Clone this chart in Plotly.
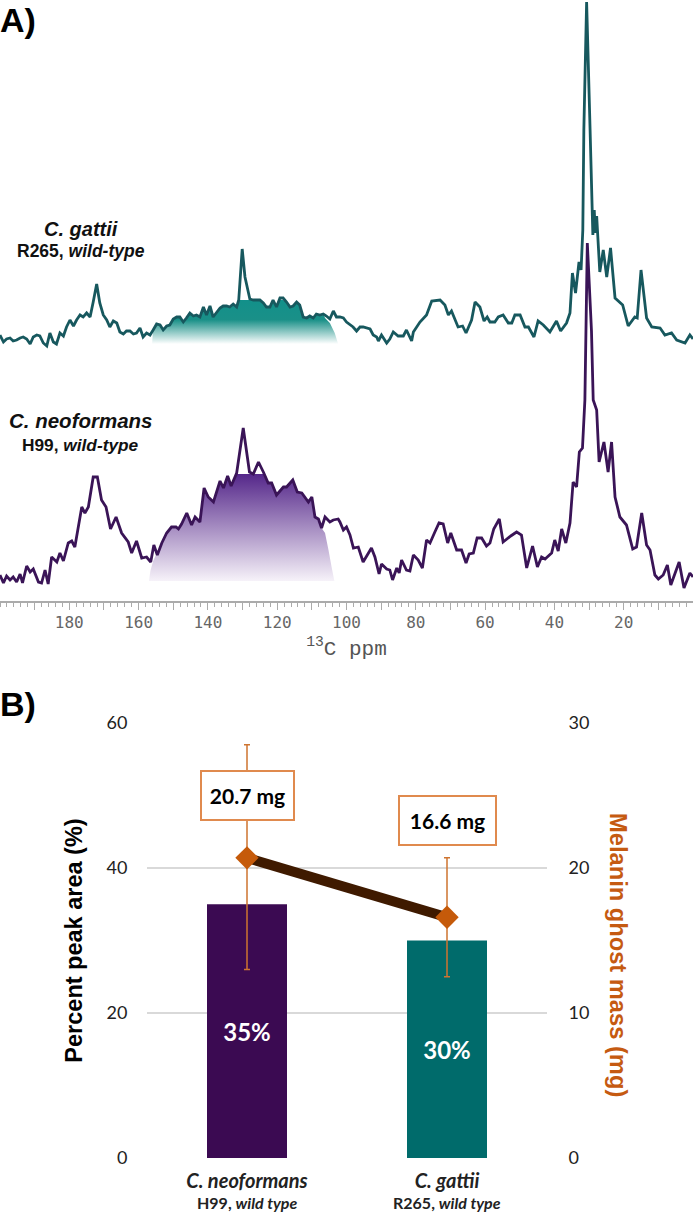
import plotly.graph_objects as go

# ---- Panel A: 13C spectra (ppm, intensity above the axis) ----
gattii_ppm = [200.0,199.0,198.1,197.1,196.2,195.2,194.2,193.3,192.3,191.3,190.4,189.4,188.5,187.5,186.5,185.6,184.6,183.7,182.7,181.7,180.8,179.8,178.8,177.9,176.9,176.0,175.0,174.0,173.1,172.1,171.2,170.2,169.2,168.3,167.3,166.3,165.4,164.4,163.5,162.5,161.5,160.6,159.6,158.7,157.7,156.7,155.8,154.8,153.8,152.9,151.9,151.0,150.0,149.0,148.1,147.1,146.2,145.2,144.2,143.3,142.3,141.3,140.4,139.4,138.5,137.5,136.5,135.6,134.6,133.7,132.7,131.7,131.1,130.1,129.3,127.9,126.9,125.0,124.0,123.1,122.1,121.2,120.2,119.2,118.3,117.3,116.3,115.4,114.4,113.5,112.5,111.5,110.6,109.6,108.7,107.7,106.7,105.8,104.8,103.8,102.9,101.9,100.9,100.0,99.0,98.1,97.1,96.1,95.2,94.2,93.2,92.3,91.3,90.8,89.9,88.4,87.5,86.5,85.1,83.6,82.7,81.2,80.7,78.8,76.9,75.4,73.0,71.6,70.6,69.7,67.8,66.5,65.5,63.9,62.9,61.5,60.3,59.4,58.6,57.2,56.2,54.8,53.3,52.3,51.4,49.9,48.5,47.5,45.9,44.7,43.2,41.3,39.4,38.2,36.5,35.5,34.8,33.9,32.9,32.3,31.8,31.5,30.7,29.7,29.1,28.9,28.5,28.2,27.8,26.9,25.9,24.9,23.8,22.5,20.3,18.7,16.8,16.1,15.0,13.4,11.9,10.5,9.5,8.1,6.2,4.7,2.3,0.9,0.0]
gattii_int = [266,259,262,263,260,261,263,264,262,257,264,266,265,258,255,268,259,257,268,265,274,281,275,281,286,284,288,284,299,317,298,286,281,274,280,278,269,267,270,270,267,268,273,264,268,266,271,277,276,271,275,276,282,284,284,279,283,288,285,286,284,294,286,295,284,289,293,295,295,294,297,294,301,352,324,302,301,301,298,294,294,301,294,303,303,299,294,295,299,296,284,283,285,283,287,286,287,285,282,290,284,284,283,279,276,274,270,274,274,273,272,266,264,260,266,258,262,269,265,265,271,260,269,279,286,300,301,296,286,290,274,275,268,281,299,294,280,284,279,279,284,286,278,278,286,286,274,274,264,280,276,269,280,270,278,288,328,308,339,331,371,471,599,471,404,366,391,368,385,329,351,324,353,303,296,275,284,283,331,283,274,273,273,266,268,261,258,266,262]

neoformans_ppm = [200.0,199.0,198.1,197.1,196.2,195.2,194.2,193.5,192.3,191.3,190.4,188.9,188.0,187.0,186.1,185.1,183.6,182.7,181.7,180.3,179.3,178.4,176.4,175.5,174.5,173.1,171.9,170.7,169.4,168.1,166.5,164.9,163.0,162.0,160.6,159.1,157.7,156.5,155.6,154.6,153.3,151.9,150.5,149.2,148.5,147.6,146.1,144.7,143.7,142.3,141.1,139.9,138.4,136.5,135.5,134.3,133.3,131.7,129.8,128.0,126.9,125.4,124.0,122.6,121.6,120.2,118.2,117.3,115.5,114.2,112.9,111.0,110.0,109.1,108.1,107.2,106.2,104.8,103.8,102.4,101.9,100.9,100.0,99.0,98.0,96.6,95.2,92.8,91.8,90.6,89.9,88.4,87.5,86.7,85.5,84.8,84.1,82.7,81.7,80.7,79.3,78.1,76.9,75.9,74.5,73.3,72.1,70.8,69.9,68.2,66.8,65.5,64.6,63.4,62.3,61.0,59.6,58.6,57.5,55.9,54.8,53.8,52.6,50.9,49.5,48.0,46.3,44.9,43.7,42.7,40.8,39.9,38.9,37.9,36.7,35.5,34.6,33.6,32.8,31.9,31.2,30.5,29.3,28.8,27.8,27.1,25.7,24.5,23.5,22.5,21.1,19.2,17.4,16.3,14.8,13.4,12.4,11.0,10.0,8.6,7.4,6.4,4.0,2.6,0.9,0.0]
neoformans_int = [26,18,25,21,24,19,27,18,35,29,32,19,18,31,17,44,39,48,40,58,60,54,94,88,94,124,124,101,94,72,84,68,59,48,60,43,44,39,56,46,58,68,74,74,72,77,88,76,84,79,113,104,99,120,113,125,115,128,173,129,127,139,129,118,118,106,114,114,121,109,108,99,104,84,82,73,84,79,81,82,79,71,74,66,53,54,39,53,44,27,37,32,31,21,33,28,41,31,30,46,41,33,61,58,69,78,77,58,68,51,51,38,47,48,63,63,55,58,72,82,59,62,65,69,66,33,55,34,44,42,48,61,50,72,58,78,119,114,149,153,201,358,270,201,191,139,159,129,159,104,84,76,52,54,88,56,51,26,22,26,36,16,39,13,28,24]

# Shaded regions: ends of the dome, flat top under the 130 ppm spike
gattii_fill_left = [(156.1, 257), (155.9, 268)]
gattii_fill_right = [(106.2, 283), (104.8, 278), (103.4, 268), (102.4, 257)]
gattii_fill_span = (106.5, 155.9)
gattii_fill_cap = 301
neo_fill_left = [(157.0, 20), (156.6, 30), (155.8, 40), (155.0, 46)]
neo_fill_right = [(106.2, 68), (105.2, 51), (104.3, 34), (103.5, 20)]
neo_fill_span = (107.0, 154.7)
neo_fill_cap = 127

ppm_labelled = [180, 160, 140, 120, 100, 80, 60, 40, 20]
ppm_tens = [190, 180, 170, 160, 150, 140, 130, 120, 110, 100, 90, 80, 70, 60, 50, 40, 30, 20, 10]
ppm_minor_step = 2

# ---- Panel B ----
strains = ["C. neoformans", "C. gattii"]
strain_sub = ["H99, <i>wild type</i>", "R265, <i>wild type</i>"]
percent_area = [35, 30]
percent_text = ["35%", "30%"]
ghost_mass = [20.7, 16.6]
ghost_err_up = [7.8, 4.1]
ghost_err_down = [7.7, 4.1]
mass_labels = ["20.7 mg", "16.6 mg"]
mass_label_y = [50.0, 46.55]
mass_box_width = [91, 95]

PURPLE_LINE, TEAL_LINE = "#3A1457", "#17585E"
ORANGE = "#C55A11"
W, H = 693, 1214

def filled(ppm, vals, left, right, span, cap):
    lo, hi = span
    mid = [(p, min(v, cap)) for p, v in zip(ppm, vals) if lo < p < hi]
    pts = left + mid + right
    return [p for p, _ in pts], [v for _, v in pts]

fig = go.Figure()

gx, gy = filled(gattii_ppm, gattii_int, gattii_fill_left, gattii_fill_right, gattii_fill_span, gattii_fill_cap)
fig.add_trace(go.Scatter(x=gx, y=gy, mode="none", fill="toself", hoverinfo="skip", xaxis="x", yaxis="y",
    fillgradient=dict(type="vertical", colorscale=[[0, "#FFFFFF"], [0.55, "#1A9088"], [1, "#12908A"]])))
fig.add_trace(go.Scatter(x=gattii_ppm, y=gattii_int, mode="lines", line=dict(color=TEAL_LINE, width=2.8), xaxis="x", yaxis="y"))
nx, ny = filled(neoformans_ppm, neoformans_int, neo_fill_left, neo_fill_right, neo_fill_span, neo_fill_cap)
fig.add_trace(go.Scatter(x=nx, y=ny, mode="none", fill="toself", hoverinfo="skip", xaxis="x", yaxis="y",
    fillgradient=dict(type="vertical", colorscale=[[0, "#F6F2F9"], [1, "#55278A"]])))
fig.add_trace(go.Scatter(x=neoformans_ppm, y=neoformans_int, mode="lines", line=dict(color=PURPLE_LINE, width=2.8), xaxis="x", yaxis="y"))
# carries the longer unlabelled ticks at every ten ppm
fig.add_trace(go.Scatter(x=[200, 0], y=[0, 0], mode="none", hoverinfo="skip", xaxis="x3", yaxis="y"))

cat_text = [f"<b><i>{a}</i></b>" for a in strains]

fig.add_trace(go.Bar(x=strains, y=percent_area, width=0.4, marker=dict(color=["#3B0A52", "#006B6B"], line=dict(width=0)),
    text=percent_text, textposition="inside", insidetextanchor="middle", textangle=0,
    textfont=dict(family="Lato", size=24, color="white", weight="bold"), xaxis="x2", yaxis="y2"))
fig.add_trace(go.Scatter(x=strains, y=ghost_mass, mode="lines+markers", xaxis="x2", yaxis="y3",
    line=dict(color="#3F1A00", width=10),
    marker=dict(symbol="diamond", size=18, color="#C55A0A"),
    error_y=dict(type="data", symmetric=False, array=ghost_err_up, arrayminus=ghost_err_down,
                 color="#CE7430", thickness=1.5, width=3)))

fig.update_layout(
    width=W, height=H, margin=dict(l=0, r=0, t=0, b=0), paper_bgcolor="white", plot_bgcolor="white",
    showlegend=False,
    xaxis=dict(domain=[0, 1], range=[200, 0], anchor="y", showgrid=False, zeroline=False, automargin=False,
        showline=True, linecolor="#ABABAB", linewidth=1.5,
        ticks="outside", ticklen=6, tickwidth=1, tickcolor="#ABABAB",
        tickmode="array", tickvals=ppm_labelled,
        tickfont=dict(family="DejaVu Sans Mono", size=16, color="#666666"),
        minor=dict(ticks="outside", ticklen=4, tickwidth=1, tickcolor="#ABABAB", dtick=ppm_minor_step, tick0=0, showgrid=False),
        title=dict(text="<sup>13</sup>C ppm", font=dict(family="Liberation Mono", size=21, color="#555555"), standoff=9)),
    xaxis3=dict(domain=[0, 1], range=[200, 0], anchor="y", overlaying="x", showgrid=False, zeroline=False, showline=False, automargin=False,
        ticks="outside", ticklen=8, tickwidth=1, tickcolor="#ABABAB", tickmode="array", tickvals=ppm_tens, showticklabels=False),
    yaxis=dict(domain=[1 - 601 / H, 1], range=[0, 601], anchor="x", visible=False, automargin=False),
    xaxis2=dict(domain=[147 / W, 547 / W], anchor="y2", type="category", categoryorder="array", categoryarray=strains, automargin=False,
        tickmode="array", tickvals=strains, ticktext=cat_text, showgrid=False, zeroline=False, showline=False,
        ticks="outside", ticklen=5, tickcolor="rgba(0,0,0,0)", tickfont=dict(family="Lato", size=20, color="#222222")),
    yaxis2=dict(domain=[1 - 1158 / H, 1 - 723 / H], range=[0, 60], anchor="x2", tickvals=[0, 20, 40, 60], automargin=False,
        gridcolor="#D9D9D9", gridwidth=2, zeroline=False, showline=False, ticks="outside", ticklen=15, tickcolor="rgba(0,0,0,0)",
        tickfont=dict(family="Lato", size=18, color="#222222"),
        title=dict(text="<b>Percent peak area (%)</b>", font=dict(family="Liberation Sans", size=23.5, color="black"), standoff=17)),
    yaxis3=dict(domain=[1 - 1158 / H, 1 - 723 / H], range=[0, 30], anchor="x2", overlaying="y2", side="right", automargin=False,
        tickvals=[0, 10, 20, 30], showgrid=False, zeroline=False, showline=False, ticks="outside", ticklen=17, tickcolor="rgba(0,0,0,0)",
        tickfont=dict(family="Lato", size=18, color="#222222")),
)

def label(text, px, py, size, family="Liberation Sans", color="#111111", anchor="center", angle=0):
    fig.add_annotation(text=text, xref="paper", yref="paper", x=px / W, y=1 - py / H, showarrow=False,
        xanchor=anchor, yanchor="middle", textangle=angle, font=dict(family=family, size=size, color=color))

label("<b>A)</b>", -2, 20, 34, anchor="left", color="black")
label("<b>B)</b>", -2, 704, 34, anchor="left", color="black")
label("<b><i>C. gattii</i></b>", 80.5, 229, 20)
label("<b>R265, <i>wild-type</i></b>", 81, 251, 17.5)
label("<b><i>C. neoformans</i></b>", 80.5, 421, 20.5)
label("<b>H99, <i>wild-type</i></b>", 80, 445, 17.3)
label("<b>Melanin ghost mass (mg)</b>", 618, 955, 23.7, color=ORANGE, angle=90)

for name, sub in zip(strains, strain_sub):
    fig.add_annotation(text=f"<b>{sub}</b>", x=name, y=0, xref="x2", yref="y2", yanchor="middle", yshift=-44, showarrow=False,
        font=dict(family="Lato", size=16, color="#222222"))

for name, yv, txt, bw in zip(strains, mass_label_y, mass_labels, mass_box_width):
    fig.add_annotation(text=f"<b>{txt}</b>", x=name, y=yv, xref="x2", yref="y2", showarrow=False,
        width=bw, height=47, borderpad=0, bgcolor="white", bordercolor="#E08A4E", borderwidth=2,
        font=dict(family="Lato", size=21, color="black"))

fig.write_html("out.html", config={"displayModeBar": False},
               post_script="document.body.style.margin='0';document.documentElement.style.overflow='hidden';")
